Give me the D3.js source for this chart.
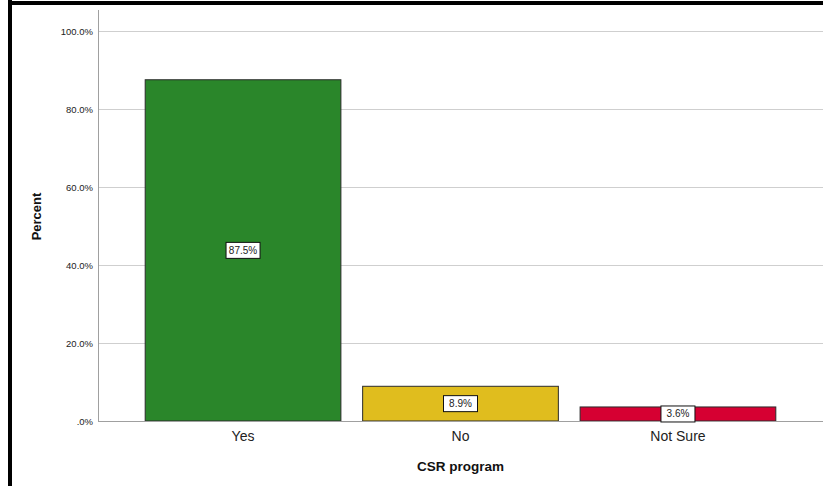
<!DOCTYPE html>
<html>
<head>
<meta charset="utf-8">
<script src="https://cdn.jsdelivr.net/npm/d3@7"></script>
<style>
  html, body { margin: 0; padding: 0; background: #fff; }
  svg { display: block; }
</style>
</head>
<body>
<svg id="chart" width="823" height="486"></svg>
<script>
// Responses to "CSR program" (percent of respondents)
const categories = ["Yes", "No", "Not Sure"];
const percents = [87.5, 8.9, 3.6];
const colors = ["#2a862a", "#e0bd1e", "#d60032"];
const yTicks = [0, 20, 40, 60, 80, 100];

const svg = d3.select("#chart");
const W = 823, H = 486;
const margin = { left: 98, right: 0, top: 10, bottom: 65 };
const plotBottom = 421;
const font = "Arial, 'Liberation Sans', sans-serif";

// Frame: heavy rule along the left and top
svg.append("rect").attr("x", 8).attr("y", 0).attr("width", 4).attr("height", H).attr("fill", "#000");
svg.append("rect").attr("x", 8).attr("y", 1).attr("width", W - 8).attr("height", 4).attr("fill", "#000");

const y = d3.scaleLinear().domain([0, 100]).range([plotBottom, 31]);
const x = d3.scaleBand().domain(categories).range([margin.left, W])
  .paddingInner(0.1).paddingOuter(0.217);

const fmt = v => (v === 0 ? ".0%" : v.toFixed(1) + "%");

// Horizontal gridlines
svg.append("g").selectAll("line").data(yTicks.filter(d => d > 0)).join("line")
  .attr("x1", margin.left).attr("x2", W)
  .attr("y1", d => y(d) + 0.5).attr("y2", d => y(d) + 0.5)
  .attr("stroke", "#cfcfcf").attr("stroke-width", 1);

// Y axis
const yAxis = svg.append("g").attr("transform", `translate(${margin.left},0)`)
  .call(d3.axisLeft(y).tickValues(yTicks).tickFormat(fmt).tickSize(0).tickPadding(5));
yAxis.select(".domain").remove();
yAxis.selectAll("text").attr("font-family", font)
  .attr("font-size", 9.5).attr("fill", "#222");
svg.append("line").attr("x1", margin.left + 0.5).attr("x2", margin.left + 0.5)
  .attr("y1", margin.top).attr("y2", plotBottom)
  .attr("stroke", "#a0a0a0").attr("stroke-width", 1);

// Bars
svg.append("g").selectAll("rect").data(categories).join("rect")
  .attr("x", d => x(d))
  .attr("y", (d, i) => y(percents[i]))
  .attr("width", x.bandwidth())
  .attr("height", (d, i) => plotBottom - y(percents[i]))
  .attr("fill", (d, i) => colors[i])
  .attr("stroke", "#2b2b2b").attr("stroke-width", 1);

// X axis baseline and category labels
svg.append("line").attr("x1", margin.left).attr("x2", W)
  .attr("y1", plotBottom + 0.5).attr("y2", plotBottom + 0.5)
  .attr("stroke", "#a0a0a0").attr("stroke-width", 1);
const xAxis = svg.append("g").attr("transform", `translate(0,${plotBottom})`)
  .call(d3.axisBottom(x).tickSize(0).tickPadding(10));
xAxis.select(".domain").remove();
xAxis.selectAll("text").attr("font-family", font)
  .attr("font-size", 14).attr("fill", "#222");

// Value labels in boxes at bar mid-height
const labels = svg.append("g").selectAll("g").data(categories).join("g")
  .attr("transform", (d, i) => `translate(${x(d) + x.bandwidth() / 2},${(y(percents[i]) + plotBottom) / 2})`);
labels.append("rect")
  .attr("x", -17).attr("y", -8).attr("width", 34).attr("height", 16)
  .attr("fill", "#fff").attr("stroke", "#111").attr("stroke-width", 1);
labels.append("text")
  .attr("text-anchor", "middle").attr("dy", "0.35em")
  .attr("font-family", font).attr("font-size", 10)
  .attr("fill", "#222")
  .text((d, i) => percents[i].toFixed(1) + "%");

// Axis titles
svg.append("text").attr("transform", `translate(41,${(margin.top + plotBottom) / 2 + 1}) rotate(-90)`)
  .attr("text-anchor", "middle")
  .attr("font-family", font).attr("font-size", 13)
  .attr("font-weight", "bold").attr("fill", "#111").text("Percent");
svg.append("text").attr("x", x("No") + x.bandwidth() / 2).attr("y", 471)
  .attr("text-anchor", "middle")
  .attr("font-family", font).attr("font-size", 13.5)
  .attr("font-weight", "bold").attr("fill", "#111").text("CSR program");
</script>
</body>
</html>
